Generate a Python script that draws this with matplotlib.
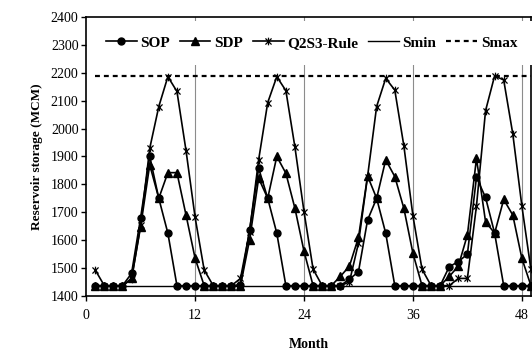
import matplotlib
matplotlib.use("Agg")
import matplotlib.pyplot as plt
from matplotlib.path import Path

plt.rcParams["font.family"] = ["Liberation Serif", "DejaVu Serif"]

# monthly storage (MCM), months 1..49
months = list(range(1, 50))
sop = [1437, 1437, 1437, 1437, 1481, 1681, 1900, 1750, 1625, 1437,
       1437, 1437, 1437, 1437, 1437, 1437, 1440, 1637, 1858, 1750,
       1625, 1437, 1437, 1437, 1437, 1437, 1437, 1437, 1460, 1487,
       1672, 1750, 1625, 1437, 1437, 1437, 1437, 1437, 1437, 1505,
       1523, 1550, 1825, 1753, 1625, 1437, 1437, 1437, 1437]
sdp = [1437, 1437, 1437, 1437, 1463, 1649, 1870, 1750, 1842, 1842,
       1690, 1535, 1437, 1437, 1437, 1437, 1437, 1601, 1822, 1750,
       1900, 1840, 1714, 1560, 1437, 1437, 1437, 1470, 1507, 1610,
       1830, 1750, 1888, 1828, 1714, 1553, 1437, 1437, 1437, 1470,
       1507, 1619, 1893, 1666, 1625, 1746, 1690, 1535, 1437]
q2s3 = [1493, 1437, 1437, 1437, 1460, 1655, 1929, 2079, 2186, 2133,
        1921, 1682, 1493, 1437, 1437, 1437, 1463, 1631, 1888, 2093,
        2186, 2136, 1933, 1702, 1496, 1437, 1437, 1437, 1450, 1590,
        1828, 2079, 2180, 2138, 1938, 1687, 1496, 1437, 1437, 1437,
        1463, 1463, 1723, 2064, 2189, 2174, 1981, 1723, 1495]
smin = 1437
smax = 2190

x_ticks = [0, 12, 24, 36, 48]
y_ticks = list(range(1400, 2401, 100))

# Excel-style star: X with a vertical bar
star = Path([(-1, -1), (1, 1), (-1, 1), (1, -1), (0, -1.25), (0, 1.25)],
            [Path.MOVETO, Path.LINETO] * 3)

fig = plt.figure(figsize=(5.32, 3.53), dpi=100)
ax = fig.add_axes([0.162, 0.1615, 0.836, 0.7905])

for xv in [12, 24, 36, 48]:
    ax.axvline(xv, color="#8c8c8c", lw=0.8, zorder=0)

ax.plot(months, sop, color="black", lw=1.2, marker="o", ms=5,
        label="SOP", zorder=4)
ax.plot(months, sdp, color="black", lw=1.2, marker="^", ms=5.2,
        label="SDP", zorder=3)
ax.plot(months, q2s3, color="black", lw=1.2, marker=star, ms=5.5,
        mfc="none", mew=0.9, label="Q2S3-Rule", zorder=2)
ax.plot([months[0], months[-1]], [smin, smin], color="black", lw=1.0,
        label="Smin", zorder=1)
ax.plot([months[0], months[-1]], [smax, smax], color="black", lw=1.6,
        dashes=(2.2, 1.8), label="Smax", zorder=1)

ax.set_xlim(0, 49)
ax.set_ylim(1400, 2400)
ax.set_xticks(x_ticks)
ax.set_yticks(y_ticks)
ax.tick_params(direction="out", length=3.5, width=1, labelsize=10, pad=2)
ax.tick_params(axis="x", pad=6)
for s in ax.spines.values():
    s.set_linewidth(1.2)

ax.set_xlabel("Month", fontsize=10, fontweight="bold")
ax.xaxis.set_label_coords(0.5, -0.15)
ax.set_ylabel("Reservoir storage (MCM)", fontsize=9.5, fontweight="bold")
ax.yaxis.set_label_coords(-0.097, 0.5)

leg = ax.legend(loc="center", bbox_to_anchor=(0.507, 0.907), ncol=5,
                frameon=True, facecolor="white", edgecolor="none",
                framealpha=1, fancybox=False, borderpad=1.0,
                handlelength=2.0, handletextpad=0.25, columnspacing=0.65,
                prop={"weight": "bold", "size": 11})
leg.set_zorder(5)

fig.savefig("out.png", dpi=100, facecolor="white")
